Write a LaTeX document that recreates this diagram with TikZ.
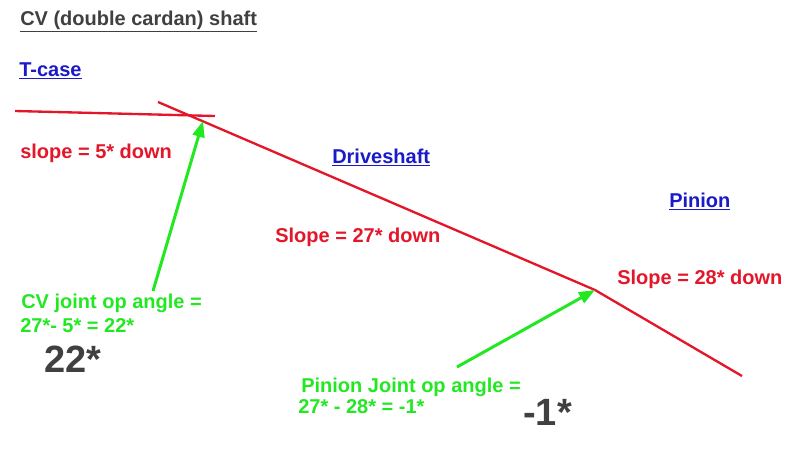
\documentclass[tikz,border=0pt]{standalone}
\usepackage{fontspec}
\setmainfont{Liberation Sans}
\usetikzlibrary{arrows.meta}
\definecolor{shaftred}{RGB}{228,22,42}
\definecolor{jointgreen}{RGB}{34,232,34}
\definecolor{partblue}{RGB}{26,26,200}
\definecolor{bigtxt}{RGB}{64,64,64}
\tikzset{
  txt/.style={anchor=base west,inner sep=0pt,font=\bfseries\fontsize{15}{18}\selectfont},
  part/.style={txt,text=partblue},
  slope/.style={txt,text=shaftred},
  opang/.style={txt,text=jointgreen},
  result/.style={anchor=base west,inner sep=0pt,text=bigtxt,font=\bfseries\fontsize{28.5}{32}\selectfont},
  shaft/.style={draw=shaftred,line width=1.75pt},
  pointer/.style={draw=jointgreen,line width=2.25pt,-{Triangle[length=12pt,width=9pt]}}
}
\begin{document}
\begin{tikzpicture}[x=0.75pt,y=0.75pt,yscale=-1,xscale=1]
\path[use as bounding box] (0,0) rectangle (798,471);

%Text: title
\node[txt,text=bigtxt] (title) at (20,25) {\underline{CV (double cardan) shaft}};
%Text: parts
\node[part] (tcase) at (19,76) {\underline{T-case}};
\node[part] (drvlbl) at (332,163) {\underline{Driveshaft}};
\node[part] (pinlbl) at (669,207) {\underline{Pinion}};
%Text: slopes
\node[slope] (slopetc) at (20,158) {slope = 5* down};
\node[slope] (slopeds) at (275,242) {Slope = 27* down};
\node[slope] (slopepin) at (617,284) {Slope = 28* down};

%Shape: shaft lines
\coordinate (tcA) at (15,111);
\coordinate (tcB) at (215,116);
\coordinate (dsA) at (158,102);
\coordinate (cvj) at (203,121);
\coordinate (pnj) at (595,290);
\coordinate (pnB) at (742,376);
\draw[shaft] (tcA) -- (tcB);
\draw[shaft] (dsA) -- (pnj) -- (pnB);

%Shape: joint arrows
\coordinate (cvtail) at (153,291);
\coordinate (pntail) at (457,367);
\draw[pointer] (cvtail) -- (cvj);
\draw[pointer] (pntail) -- (pnj);

%Text: op angles
\node[opang] (cvtxtA) at (21,308) {CV joint op angle =};
\node[opang] (cvtxtB) at (20,332) {27*- 5* = 22*};
\node[result] (cvval) at (44,372) {22*};
\node[opang] (pintxtA) at (301,392) {Pinion Joint op angle =};
\node[opang] (pintxtB) at (298,413) {27* - 28* = -1*};
\node[result] (pinval) at (523,425) {-1*};

\end{tikzpicture}
\end{document}
